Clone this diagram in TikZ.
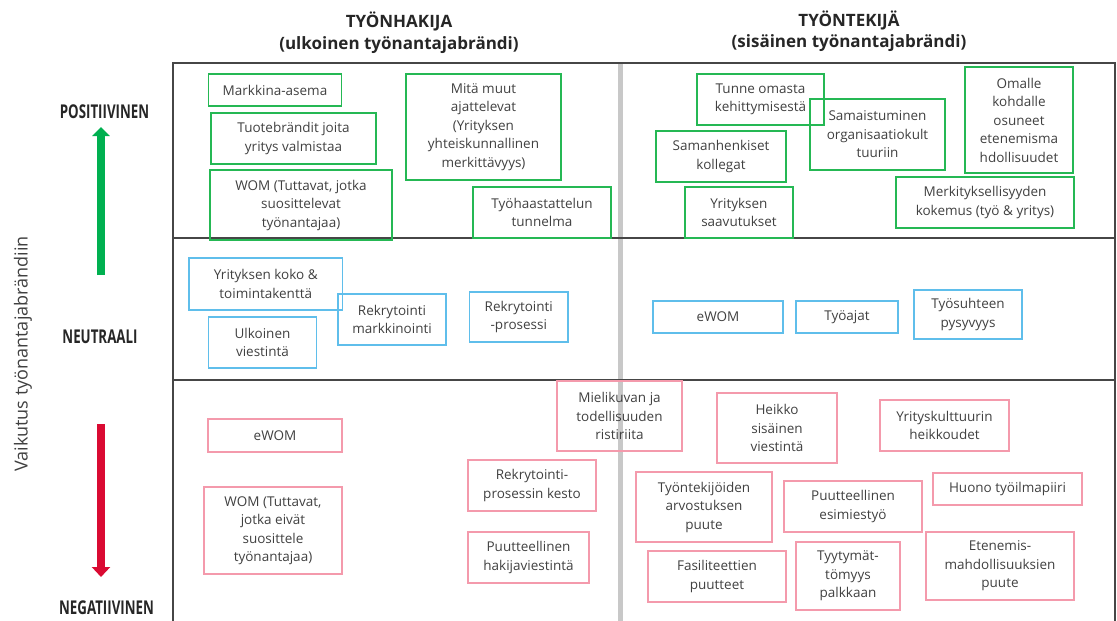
\documentclass[tikz,border=0pt]{standalone}
\usepackage{graphicx}
\usepackage{fontspec}
\setmainfont{Open Sans}
\usetikzlibrary{arrows.meta}

\definecolor{boxgreen}{RGB}{37,184,84}
\definecolor{boxblue}{RGB}{95,190,235}
\definecolor{boxpink}{RGB}{244,154,172}
\definecolor{arrowgreen}{RGB}{0,176,80}
\definecolor{arrowred}{RGB}{218,10,50}
\definecolor{framegray}{RGB}{70,70,70}
\definecolor{divgray}{RGB}{200,200,200}
\definecolor{txtgray}{RGB}{64,64,64}
\definecolor{titlegray}{RGB}{38,38,38}

\begin{document}
\begin{tikzpicture}[
      x=1pt, y=-1pt,
      every node/.style={font=\fontsize{13.5}{18.5}\selectfont, text=txtgray, align=center},
      plusbox/.style={draw=boxgreen, line width=1.3pt, inner sep=0pt},
      neutbox/.style={draw=boxblue, line width=1.3pt, inner sep=0pt},
      minusbox/.style={draw=boxpink, line width=1.3pt, inner sep=0pt},
      level/.style={font=\fontsize{19}{19}\selectfont\bfseries, text=titlegray},
      head/.style={font=\fontsize{17}{21.5}\selectfont\bfseries, text=titlegray},
      frame/.style={draw=framegray, line width=2pt}
      ]

  \useasboundingbox (0,0) rectangle (1117,621);

  % grid
  \draw[line width=5pt, divgray] (620.5,62.5) -- (620.5,621);
  \draw[frame] (173,621) -- (173,62.5) -- (1115,62.5) -- (1115,621);
  \draw[frame] (173,238) -- (1115,238);
  \draw[frame] (173,380) -- (1115,380);

  \node[head] (hakija) at (399,32.5) {TYÖNHAKIJA\\(ulkoinen työnantajabrändi)};
  \node[head] (tekija) at (849,31) {TYÖNTEKIJÄ\\(sisäinen työnantajabrändi)};

  \node[level] (positiivinen) at (104.5,111.5) {\scalebox{0.7}[1]{POSITIIVINEN}};
  \node[level] (neutraali) at (100,336.5) {\scalebox{0.7}[1]{NEUTRAALI}};
  \node[level] (negatiivinen) at (106.5,608) {\scalebox{0.7}[1]{NEGATIIVINEN}};
  \node[rotate=90, font=\fontsize{18}{20}\selectfont] (vaikutus) at (23,354) {Vaikutus työnantajabrändiin};

  \coordinate (gtail) at (101,275);
  \coordinate (ghead) at (101,127);
  \coordinate (rtail) at (101,424);
  \coordinate (rhead) at (101,577);

  % positive
  \node[plusbox, minimum width=133pt, minimum height=32pt] (markkina) at (275,90) {Markkina-asema};
  \node[plusbox, minimum width=165pt, minimum height=51pt] (tuote) at (293.5,138.5) {Tuotebrändit joita\\yritys valmistaa};
  \node[plusbox, minimum width=182pt, minimum height=70pt] (wom) at (301,205) {WOM (Tuttavat, jotka\\suosittelevat\\työnantajaa)};
  \node[plusbox, minimum width=155pt, minimum height=106pt] (muut) at (483.5,127) {Mitä muut\\ajattelevat\\(Yrityksen\\yhteiskunnallinen\\merkittävyys)};
  \node[plusbox, minimum width=138pt, minimum height=51pt] (haastattelu) at (542,212.5) {Työhaastattelun\\tunnelma};
  \node[plusbox, minimum width=127pt, minimum height=51pt] (tunne) at (760.5,99.5) {Tunne omasta\\kehittymisestä};
  \node[plusbox, minimum width=135pt, minimum height=71pt] (samaistuminen) at (877.5,134.5) {Samaistuminen\\organisaatiokult\\tuuriin};
  \node[plusbox, minimum width=108pt, minimum height=106pt] (omalle) at (1019,120) {Omalle\\kohdalle\\osuneet\\etenemisma\\hdollisuudet};
  \node[plusbox, minimum width=130pt, minimum height=51pt] (kollegat) at (721,156.5) {Samanhenkiset\\kollegat};
  \node[plusbox, minimum width=108pt, minimum height=51pt] (saavutukset) at (739,212.5) {Yrityksen\\saavutukset};
  \node[plusbox, minimum width=178pt, minimum height=51pt] (merkitys) at (985,202.5) {Merkityksellisyyden\\kokemus (työ \& yritys)};

  % neutral
  \node[neutbox, minimum width=153.5pt, minimum height=52pt] (koko) at (265.75,284) {Yrityksen koko \&\\toimintakenttä};
  \node[neutbox, minimum width=108pt, minimum height=51pt] (ulkoinen) at (262.5,342.5) {Ulkoinen\\viestintä};
  \node[neutbox, minimum width=108pt, minimum height=51pt] (rekmark) at (392,319.5) {Rekrytointi\\markkinointi};
  \node[neutbox, minimum width=98.4pt, minimum height=50pt] (rekpros) at (518.8,317) {Rekrytointi\\-prosessi};
  \node[neutbox, minimum width=130pt, minimum height=32pt] (ewomneu) at (718,317) {eWOM};
  \node[neutbox, minimum width=102pt, minimum height=32pt] (tyoajat) at (847,317) {Työajat};
  \node[neutbox, minimum width=108pt, minimum height=49pt] (pysyvyys) at (968,314.5) {Työsuhteen\\pysyvyys};

  % negative
  \node[minusbox, minimum width=134pt, minimum height=33pt] (ewomneg) at (275,435.5) {eWOM};
  \node[minusbox, minimum width=138pt, minimum height=87pt] (womneg) at (273,530.5) {WOM (Tuttavat,\\jotka eivät\\suosittele\\työnantajaa)};
  \node[minusbox, minimum width=128pt, minimum height=51pt] (kesto) at (532,485.5) {Rekrytointi-\\prosessin kesto};
  \node[minusbox, minimum width=121pt, minimum height=51pt] (hakijaviest) at (528.5,557.5) {Puutteellinen\\hakijaviestintä};
  \node[minusbox, minimum width=125pt, minimum height=70pt] (mielikuva) at (619.5,416) {Mielikuvan ja\\todellisuuden\\ristiriita};
  \node[minusbox, minimum width=120pt, minimum height=70pt] (heikko) at (777,428) {Heikko\\sisäinen\\viestintä};
  \node[minusbox, minimum width=129pt, minimum height=51pt] (kulttuuri) at (944.5,425.5) {Yrityskulttuurin\\heikkoudet};
  \node[minusbox, minimum width=136pt, minimum height=70pt] (arvostus) at (704,507) {Työntekijöiden\\arvostuksen\\puute};
  \node[minusbox, minimum width=138pt, minimum height=51pt] (esimies) at (853,506.5) {Puutteellinen\\esimiestyö};
  \node[minusbox, minimum width=149pt, minimum height=32pt] (ilmapiiri) at (1007.5,489) {Huono työilmapiiri};
  \node[minusbox, minimum width=138pt, minimum height=51pt] (fasiliteetit) at (717,576.5) {Fasiliteettien\\puutteet};
  \node[minusbox, minimum width=104pt, minimum height=68pt] (palkka) at (848,576) {Tyytymät-\\tömyys\\palkkaan};
  \node[minusbox, minimum width=148pt, minimum height=68pt] (etenemis) at (1000,566) {Etenemis-\\mahdollisuuksien\\puute};

  % axis arrows
  \draw[line width=8pt, arrowgreen, -{Triangle[width=17pt,length=9pt]}] (gtail) -- (ghead);
  \draw[line width=8pt, arrowred, -{Triangle[width=18pt,length=10pt]}] (rtail) -- (rhead);

\end{tikzpicture}
\end{document}
